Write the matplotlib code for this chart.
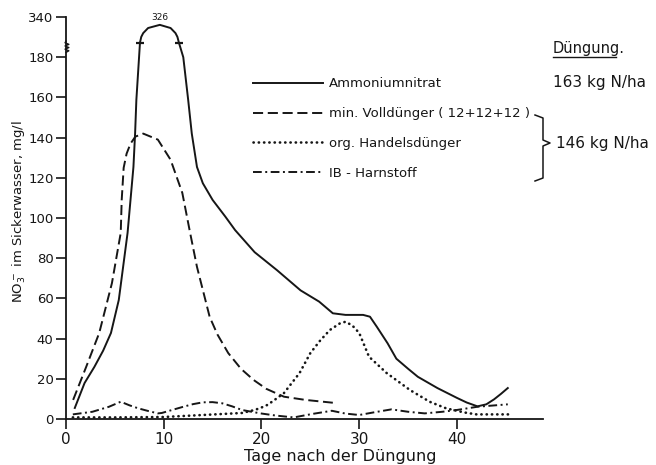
import matplotlib
matplotlib.use("Agg")
import matplotlib.pyplot as plt
from matplotlib.lines import Line2D
import numpy as np

# Tage nach der Duengung / NO3 im Sickerwasser (mg/l)
ammon_days = [0.9, 1.9, 2.9, 3.8, 4.6, 5.4, 6.3, 6.9, 7.07, 7.2, 7.57, 7.7, 7.9, 8.4, 9.6, 10.7, 11.2,
              11.4, 11.55, 12.0, 12.5, 12.87, 13.4, 14.0, 15.0, 16.3, 17.3, 19.3, 21.6, 24.0, 25.9,
              27.3, 28.6, 30.4, 31.1, 31.8, 32.9, 33.8, 35.0, 36.0, 38.0, 40.0, 41.0, 42.1, 43.0,
              43.8, 44.5, 45.2]
ammon_vals = [5.5, 17.9, 25.9, 34, 42.8, 59.2, 92.6, 125.4, 142, 158.8, 214, 250, 274, 306, 326, 306, 274,
              250, 214, 180, 158.8, 142, 125.4, 117.3, 109, 100.7, 94, 83, 74, 64, 58.4,
              52.6, 51.8, 51.8, 50.9, 45.9, 37.7, 30, 25, 21, 15.4, 10.5, 8.2, 6.3, 7.3,
              9.8, 12.5, 15.4]

vd_days = [0.73, 2.07, 3.4, 4.7, 5.6, 5.7, 5.9, 6.2, 6.6, 7.1, 7.9, 9.4, 10.7, 11.9, 12.7, 13.4, 14.7,
           15.5, 16.6, 17.9, 19.2, 20.5, 22.3, 24.5, 27.3]
vd_vals = [9.5, 26, 42.8, 67.6, 92.6, 109, 125, 132, 137, 140.5, 142, 139, 129, 112.5, 92.6, 75.7, 50.8,
           42, 32.8, 25, 19.4, 15, 11.1, 9.5, 8.1]

org_days = [0.7, 5, 10, 14, 18, 19.3, 19.9, 20.6, 21.2, 22.3, 23.9, 25.0, 26.0, 27.0, 28.0, 28.6,
            29.3, 30.0, 31.0, 32.8, 35.2, 37.2, 38.9, 40.7, 42, 45.4]
org_vals = [0.8, 0.8, 1, 2, 3, 4.5, 5.5, 7, 9, 12.9, 22.9, 32.8, 39, 44.3, 47.5, 48.4,
            46.5, 42.8, 31, 22.9, 14.4, 8.6, 5.3, 3.3, 2.3, 2.3]

ib_days = [0.7, 2.7, 4.4, 5.6, 6.5, 7.4, 8.4, 9.4, 9.8, 11.0, 12.0, 13.0, 14.0, 15.0, 16.0, 17.0,
           18.0, 19.9, 21.5, 23.3, 25.3, 27.2, 28.6, 30.0, 31.6, 33.3, 35.0, 36.7, 38.5, 40.0,
           42.1, 45.2]
ib_vals = [2.3, 3.6, 6.1, 8.6, 6.8, 5.3, 4.0, 2.8, 3.0, 4.7, 6.1, 7.4, 8.3, 8.4, 7.8, 6.3,
           4.5, 2.8, 1.7, 0.8, 2.6, 4.1, 2.7, 2.0, 3.4, 4.8, 3.6, 2.8, 3.6, 4.5,
           6.1, 7.3]

labels = ["Ammoniumnitrat", "min. Volldünger ( 12+12+12 )", "org. Handelsdünger", "IB - Harnstoff"]
yticks = [0, 20, 40, 60, 80, 100, 120, 140, 160, 180, 340]
xticks = [0, 10, 20, 30, 40]

# broken y axis: linear up to 185, squeezed above
brk_v = [-1000, 0, 185, 326, 340, 1000]
brk_p = [-1000, 0, 185, 196.1, 200, 860]


def fwd(v):
    return np.interp(v, brk_v, brk_p)


def inv(p):
    return np.interp(p, brk_p, brk_v)


ink = "#161616"
fig = plt.figure(figsize=(6.56, 4.65), dpi=100)
ax = fig.add_axes([0.1006, 0.0989, 0.7271, 0.8645])
ax.set_yscale("function", functions=(fwd, inv))

l1, = ax.plot(ammon_days, ammon_vals, color=ink, lw=1.4, ls="-")
l2, = ax.plot(vd_days, vd_vals, color=ink, lw=1.4, ls=(0, (5.2, 2.4)))
l3, = ax.plot(org_days, org_vals, color=ink, lw=1.9, ls=(0, (0.1, 1.9)), dash_capstyle="round")
l4, = ax.plot(ib_days, ib_vals, color=ink, lw=1.4, ls=(0, (4.5, 1.8, 1.0, 1.8)))

# break marks on the peak and its value
a = np.array(ammon_vals)
above = np.where(a > 185)[0]
for i in (above[0], above[-1]):
    ax.plot(ammon_days[i], ammon_vals[i], marker="_", ms=6, mew=1.6, color=ink)
ip = int(np.argmax(a))
ax.annotate(str(int(a[ip])), (ammon_days[ip], a[ip]), xytext=(0, 2), textcoords="offset points",
            ha="center", va="bottom", fontsize=6.5, color=ink)

ax.set_xlim(0, 48.8)
ax.set_ylim(0, 340)
ax.set_xticks(xticks)
ax.set_yticks(yticks)
ax.set_yticklabels([str(t) for t in yticks], fontsize=9.5)
ax.set_xticklabels([str(t) for t in xticks], fontsize=11)
ax.minorticks_off()
for s in ("top", "right"):
    ax.spines[s].set_visible(False)
for s in ("left", "bottom"):
    ax.spines[s].set_linewidth(1.3)
    ax.spines[s].set_color(ink)
ax.tick_params(direction="out", length=7, width=1.2, color=ink, labelcolor=ink)
ax.tick_params(axis="x", pad=2)
ax.tick_params(axis="y", pad=2)

# squiggle on the y axis at the break
ax.plot([0, 0], [0.912, 0.94], transform=ax.transAxes, color="white", lw=3, clip_on=False)
zz_y = np.linspace(0.912, 0.94, 8)
zz_x = np.array([0, 0.006, -0.002, 0.006, -0.002, 0.006, -0.002, 0])
ax.plot(zz_x, zz_y, transform=ax.transAxes, color=ink, lw=1.0, clip_on=False)

fig.text(19 / 656, 1 - 212 / 465, "NO$_3^-$ im Sickerwasser, mg/l", rotation=90,
         ha="center", va="center", fontsize=9.5, color=ink)
fig.text(340 / 656, 1 - 456 / 465, "Tage nach der Düngung", ha="center", va="center",
         fontsize=11.5, color=ink)

ax.legend([l1, l2, l3, l4], labels, loc="upper left", bbox_to_anchor=(0.392, 0.85),
          frameon=False, fontsize=9.5, handlelength=5.3, handletextpad=0.45,
          labelspacing=1.28, borderpad=0, borderaxespad=0, labelcolor=ink)

# fertiliser amounts on the right
fig.text(553 / 656, 1 - 48 / 465, "Düngung.", ha="left", va="center", fontsize=10.5, color=ink)
fig.add_artist(Line2D([553 / 656, 616 / 656], [1 - 57 / 465, 1 - 57 / 465], color=ink, lw=1.0))
fig.text(553 / 656, 1 - 83 / 465, "163 kg N/ha", ha="left", va="center", fontsize=11, color=ink)
fig.text(556 / 656, 1 - 143 / 465, "146 kg N/ha", ha="left", va="center", fontsize=11, color=ink)
bx = np.array([535, 543, 543, 550, 543, 543, 535]) / 656
by = 1 - np.array([115, 118, 140, 143, 146, 178, 181]) / 465
fig.add_artist(Line2D(bx, by, color=ink, lw=1.1))

fig.savefig("out.png", dpi=100)
